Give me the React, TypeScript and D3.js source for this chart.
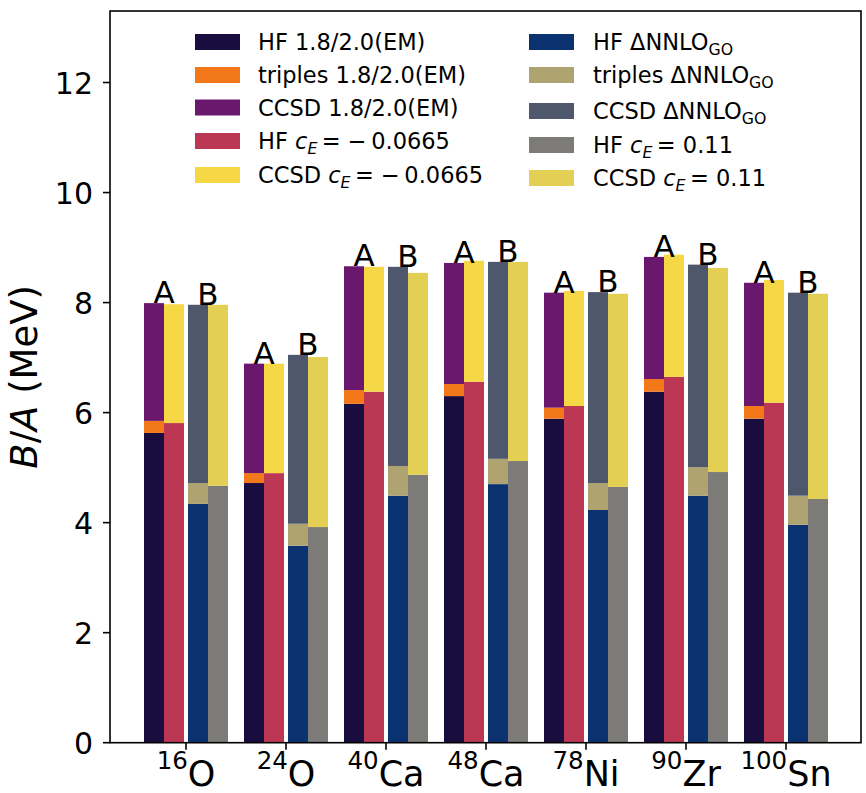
import React from "react";
import * as d3 from "d3";

const nuclei = [
  { mass: "16", sym: "O" },
  { mass: "24", sym: "O" },
  { mass: "40", sym: "Ca" },
  { mass: "48", sym: "Ca" },
  { mass: "78", sym: "Ni" },
  { mass: "90", sym: "Zr" },
  { mass: "100", sym: "Sn" },
];

// Interaction A: 1.8/2.0(EM)
const hfEM = [5.63, 4.72, 6.16, 6.3, 5.89, 6.38, 5.89];
const triplesEM = [0.22, 0.18, 0.25, 0.22, 0.2, 0.23, 0.23];
const ccsdEM = [2.14, 1.99, 2.25, 2.2, 2.09, 2.22, 2.24];
// Interaction A: c_E = -0.0665
const hfCeA = [5.81, 4.9, 6.38, 6.56, 6.12, 6.65, 6.18];
const ccsdCeA = [2.16, 1.99, 2.27, 2.2, 2.09, 2.22, 2.23];
// Interaction B: ΔNNLO_GO
const hfGO = [4.34, 3.58, 4.49, 4.7, 4.23, 4.49, 3.96];
const triplesGO = [0.38, 0.4, 0.54, 0.46, 0.49, 0.52, 0.53];
const ccsdGO = [3.24, 3.07, 3.62, 3.58, 3.47, 3.68, 3.69];
// Interaction B: c_E = 0.11
const hfCeB = [4.67, 3.92, 4.87, 5.12, 4.65, 4.92, 4.43];
const ccsdCeB = [3.29, 3.09, 3.67, 3.62, 3.51, 3.71, 3.73];

const yTicks = [0, 2, 4, 6, 8, 10, 12];

const C = {
  hfEM: "#190c3e",
  trEM: "#f37819",
  ccEM: "#6a176e",
  hfCeA: "#bc3754",
  ccCeA: "#f6d746",
  hfGO: "#0b3270",
  trGO: "#aea371",
  ccGO: "#4e576c",
  hfCeB: "#7c7b78",
  ccCeB: "#e4cf55",
};

const FONT = "DejaVu Sans, sans-serif";
const W = 866;
const H = 793;
const L = 110,
  R = 861,
  T = 11,
  B = 742.7;

const x = d3.scaleLinear().domain([-0.76, 6.75]).range([L, R]);
const y = d3.scaleLinear().domain([0, 13.3]).range([B, T]);

const barW = 0.2;

type Seg = { off: number; from: number; to: number; color: string };

function segments(i: number): Seg[] {
  const s: Seg[] = [];
  const a1 = hfEM[i],
    a2 = a1 + triplesEM[i],
    a3 = a2 + ccsdEM[i];
  s.push({ off: -0.32, from: 0, to: a1, color: C.hfEM });
  s.push({ off: -0.32, from: a1, to: a2, color: C.trEM });
  s.push({ off: -0.32, from: a2, to: a3, color: C.ccEM });
  const b1 = hfCeA[i],
    b2 = b1 + ccsdCeA[i];
  s.push({ off: -0.12, from: 0, to: b1, color: C.hfCeA });
  s.push({ off: -0.12, from: b1, to: b2, color: C.ccCeA });
  const c1 = hfGO[i],
    c2 = c1 + triplesGO[i],
    c3 = c2 + ccsdGO[i];
  s.push({ off: 0.12, from: 0, to: c1, color: C.hfGO });
  s.push({ off: 0.12, from: c1, to: c2, color: C.trGO });
  s.push({ off: 0.12, from: c2, to: c3, color: C.ccGO });
  const d1 = hfCeB[i],
    d2 = d1 + ccsdCeB[i];
  s.push({ off: 0.32, from: 0, to: d1, color: C.hfCeB });
  s.push({ off: 0.32, from: d1, to: d2, color: C.ccCeB });
  return s;
}

function CeLabel({ prefix, value }: { prefix: string; value: string }) {
  return (
    <>
      <tspan>{prefix} </tspan>
      <tspan fontStyle="italic">c</tspan>
      <tspan fontStyle="italic" fontSize="0.7em" dy="5">
        E
      </tspan>
      <tspan dy="-5">{"\u2009= " + value}</tspan>
    </>
  );
}

function GOLabel({ prefix }: { prefix: string }) {
  return (
    <>
      <tspan>{prefix} ΔNNLO</tspan>
      <tspan fontSize="0.7em" dy="5">
        GO
      </tspan>
    </>
  );
}

const leftLegend = [
  { color: C.hfEM, label: <tspan>HF 1.8/2.0(EM)</tspan> },
  { color: C.trEM, label: <tspan>triples 1.8/2.0(EM)</tspan> },
  { color: C.ccEM, label: <tspan>CCSD 1.8/2.0(EM)</tspan> },
  { color: C.hfCeA, label: <CeLabel prefix="HF" value={"\u2212\u20090.0665"} /> },
  { color: C.ccCeA, label: <CeLabel prefix="CCSD" value={"\u2212\u20090.0665"} /> },
];
const rightLegend = [
  { color: C.hfGO, label: <GOLabel prefix="HF" /> },
  { color: C.trGO, label: <GOLabel prefix="triples" /> },
  { color: C.ccGO, label: <GOLabel prefix="CCSD" /> },
  { color: C.hfCeB, label: <CeLabel prefix="HF" value="0.11" /> },
  { color: C.ccCeB, label: <CeLabel prefix="CCSD" value="0.11" /> },
];
const leftRowsY = [42, 75, 107.5, 141, 175];
const rightRowsY = [42, 75, 111, 145, 178];

export default function App() {
  return (
    <svg
      width={W}
      height={H}
      style={{ position: "absolute", left: 0, top: 0, background: "#fff" }}
      fontFamily={FONT}
    >
      <rect x={0} y={0} width={W} height={H} fill="#fff" />
      {nuclei.map((n, i) =>
        segments(i).map((s, j) => {
          const x0 = x(i + s.off - barW / 2);
          const x1 = x(i + s.off + barW / 2);
          return (
            <rect
              key={`${i}-${j}`}
              x={x0}
              y={y(s.to)}
              width={x1 - x0}
              height={y(s.from) - y(s.to)}
              fill={s.color}
            />
          );
        })
      )}
      {nuclei.map((n, i) => {
        const topA = hfEM[i] + triplesEM[i] + ccsdEM[i];
        const topB = hfGO[i] + triplesGO[i] + ccsdGO[i];
        return (
          <g key={"ab" + i} fontSize={31} textAnchor="middle" fill="#000">
            <text x={x(i - 0.22)} y={y(topA)}>
              A
            </text>
            <text x={x(i + 0.22)} y={y(topB)}>
              B
            </text>
          </g>
        );
      })}
      {/* spines */}
      <rect x={L} y={T} width={R - L} height={B - T} fill="none" stroke="#000" strokeWidth={1.6} />
      {/* y ticks */}
      {yTicks.map((t) => (
        <g key={"yt" + t}>
          <line x1={L - 7} x2={L} y1={y(t)} y2={y(t)} stroke="#000" strokeWidth={1.6} />
          <text x={L - 17} y={y(t) + 11} textAnchor="end" fontSize={30}>
            {t}
          </text>
        </g>
      ))}
      {/* x ticks */}
      {nuclei.map((n, i) => (
        <g key={"xt" + i}>
          <line x1={x(i)} x2={x(i)} y1={B} y2={B + 7} stroke="#000" strokeWidth={1.6} />
          <text x={x(i)} y={786} textAnchor="middle" fontSize={35}>
            <tspan fontSize="0.7em" dy="-17">
              {n.mass}
            </tspan>
            <tspan dy="17">{n.sym}</tspan>
          </text>
        </g>
      ))}
      {/* y label */}
      <text
        transform={`translate(37,${(T + B) / 2}) rotate(-90)`}
        textAnchor="middle"
        fontSize={37}
      >
        <tspan fontStyle="italic">B</tspan>
        <tspan>/</tspan>
        <tspan fontStyle="italic">A</tspan>
        <tspan> (MeV)</tspan>
      </text>
      {/* legend */}
      <g fontSize={22.5}>
        {leftLegend.map((l, k) => (
          <g key={"ll" + k}>
            <rect x={195} y={leftRowsY[k] - 8} width={45} height={16} fill={l.color} />
            <text x={258} y={leftRowsY[k] + 8}>
              {l.label}
            </text>
          </g>
        ))}
        {rightLegend.map((l, k) => (
          <g key={"rl" + k}>
            <rect x={529} y={rightRowsY[k] - 8} width={45} height={16} fill={l.color} />
            <text x={593} y={rightRowsY[k] + 8}>
              {l.label}
            </text>
          </g>
        ))}
      </g>
    </svg>
  );
}
